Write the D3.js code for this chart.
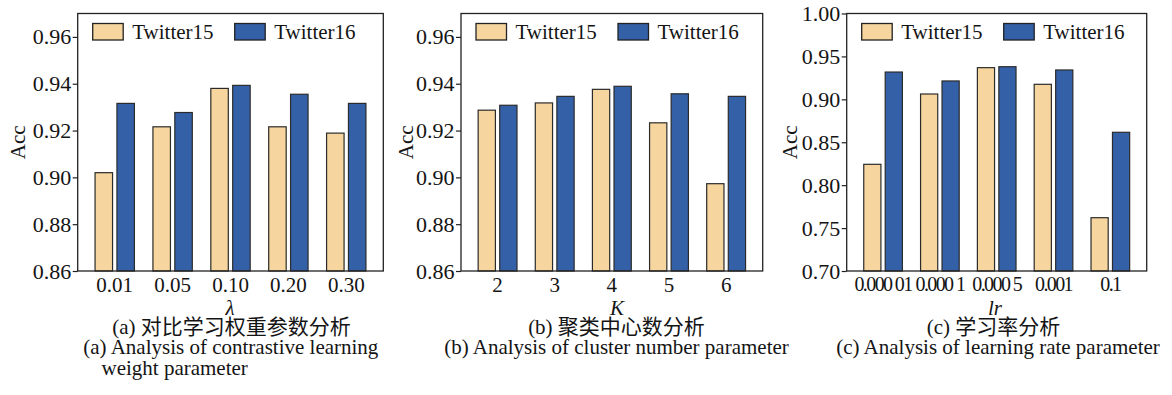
<!DOCTYPE html>
<html><head><meta charset="utf-8">
<script src="https://cdn.jsdelivr.net/npm/d3@7"></script>
<style>
html,body{margin:0;padding:0;background:#fff;}
svg{display:block;background:#fff;}
text{font-family:"Liberation Serif","Times New Roman","Noto Sans CJK SC",serif;fill:#141414;}
</style></head><body>
<svg id="chart" width="1172" height="395"></svg>
<script>
// Accuracy of the two datasets under three hyper-parameter sweeps
const seriesNames = ["Twitter15", "Twitter16"];
const seriesColors = ["#F6D69E", "#3460A8"];

const lambdaLabels = ["0.01", "0.05", "0.10", "0.20", "0.30"];
const lambdaTwitter15 = [0.9020, 0.9216, 0.9380, 0.9216, 0.9189];
const lambdaTwitter16 = [0.9316, 0.9277, 0.9393, 0.9355, 0.9316];

const clusterLabels = ["2", "3", "4", "5", "6"];
const clusterTwitter15 = [0.9287, 0.9318, 0.9376, 0.9233, 0.8973];
const clusterTwitter16 = [0.9308, 0.9346, 0.9389, 0.9357, 0.9346];

const lrLabels = ["0.000 01", "0.000 1", "0.000 5", "0.001", "0.1"];
const lrTwitter15 = [0.8243, 0.9062, 0.9369, 0.9175, 0.7621];
const lrTwitter16 = [0.9318, 0.9214, 0.9380, 0.9342, 0.8616];

const accTicksFine = [0.86, 0.88, 0.90, 0.92, 0.94, 0.96];
const accDomainFine = [0.86, 0.97];
const accTicksCoarse = [0.70, 0.75, 0.80, 0.85, 0.90, 0.95, 1.00];
const accDomainCoarse = [0.70, 1.00];

const captionsA = ["(a) 对比学习权重参数分析", "(a) Analysis of contrastive learning", "weight parameter"];
const captionsB = ["(b) 聚类中心数分析", "(b) Analysis of cluster number parameter"];
const captionsC = ["(c) 学习率分析", "(c) Analysis of learning rate parameter"];

const svg = d3.select("#chart");
const FONT = 21;
const plotTop = 13.5, plotBottom = 271;

function drawPanel(opt) {
  const g = svg.append("g");
  const w = opt.right - opt.left;
  const x = d3.scaleBand().domain(opt.labels).range([opt.left, opt.right])
    .paddingInner(0.32).paddingOuter(0.30);
  const xs = d3.scaleBand().domain(seriesNames).range([0, x.bandwidth()]).paddingInner(0.2);
  const y = d3.scaleLinear().domain(opt.domain).range([plotBottom, plotTop]);

  const rows = opt.labels.map((c, i) => ({cat: c, vals: [opt.s1[i], opt.s2[i]]}));

  // bars
  rows.forEach(r => {
    r.vals.forEach((v, j) => {
      g.append("rect")
        .attr("x", x(r.cat) + xs(seriesNames[j]))
        .attr("y", y(v))
        .attr("width", xs.bandwidth())
        .attr("height", plotBottom - y(v))
        .attr("fill", seriesColors[j])
        .attr("stroke", "#2b2b2b")
        .attr("stroke-width", 1.2);
    });
  });

  // frame
  g.append("rect").attr("x", opt.left).attr("y", plotTop)
    .attr("width", w).attr("height", plotBottom - plotTop)
    .attr("fill", "none").attr("stroke", "#222").attr("stroke-width", 1.3);

  // y axis
  const ya = g.append("g").attr("transform", `translate(${opt.left},0)`)
    .call(d3.axisLeft(y).tickValues(opt.ticks).tickFormat(d3.format(".2f"))
      .tickSize(5).tickPadding(1.5));
  ya.select(".domain").remove();
  ya.selectAll("line").attr("stroke", "#222").attr("stroke-width", 1.2);
  ya.selectAll("text").attr("font-size", 22).attr("font-family", null).attr("fill", "#141414");

  // x axis
  const xa = g.append("g").attr("transform", `translate(0,${plotBottom})`)
    .call(d3.axisBottom(x).tickSize(0).tickPadding(6));
  xa.select(".domain").remove();
  xa.selectAll("text").attr("font-size", opt.xFont || FONT).attr("font-family", null)
    .attr("fill", "#141414").style("letter-spacing", opt.xSpacing || null);

  // y title
  g.append("text").attr("transform", `translate(${opt.yTitleX},${(plotTop + plotBottom) / 2}) rotate(-90)`)
    .attr("text-anchor", "middle").attr("font-size", FONT).text("Acc");

  // x title
  g.append("text").attr("x", opt.xTitleX).attr("y", 314.5)
    .attr("text-anchor", "middle").attr("font-size", FONT).attr("font-style", "italic")
    .text(opt.xTitle);

  // legend
  const lx = opt.left + 15;
  seriesNames.forEach((s, j) => {
    const ox = lx + j * 142;
    g.append("rect").attr("x", ox).attr("y", 23.5).attr("width", 30.5).attr("height", 16.5)
      .attr("fill", seriesColors[j]).attr("stroke", "#222").attr("stroke-width", 1.3);
    g.append("text").attr("x", ox + 39.5).attr("y", 39.3).attr("font-size", FONT).text(s);
  });

  // captions
  opt.captions.forEach((c, i) => {
    const p = opt.captionPos[i];
    g.append("text").attr("x", p[0]).attr("y", p[1]).attr("text-anchor", p[2])
      .attr("font-size", FONT).text(c);
  });
}

drawPanel({
  left: 77.7, right: 383.3, labels: lambdaLabels, s1: lambdaTwitter15, s2: lambdaTwitter16,
  domain: accDomainFine, ticks: accTicksFine, yTitleX: 25, xTitleX: 230, xTitle: "λ",
  captions: captionsA,
  captionPos: [[231.5, 334, "middle"], [83.3, 354, "start"], [101.5, 375, "start"]]
});
drawPanel({
  left: 461, right: 762.7, labels: clusterLabels, s1: clusterTwitter15, s2: clusterTwitter16,
  domain: accDomainFine, ticks: accTicksFine, yTitleX: 413.3, xTitleX: 617, xTitle: "K",
  captions: captionsB,
  captionPos: [[616.5, 334, "middle"], [616.5, 354, "middle"]]
});
drawPanel({
  left: 846.7, right: 1146.7, labels: lrLabels, s1: lrTwitter15, s2: lrTwitter16,
  domain: accDomainCoarse, ticks: accTicksCoarse, yTitleX: 797, xTitleX: 995, xTitle: "lr",
  xFont: 20, xSpacing: "-1.6px",
  captions: captionsC,
  captionPos: [[993.5, 334, "middle"], [998, 354, "middle"]]
});
</script>
</body></html>
